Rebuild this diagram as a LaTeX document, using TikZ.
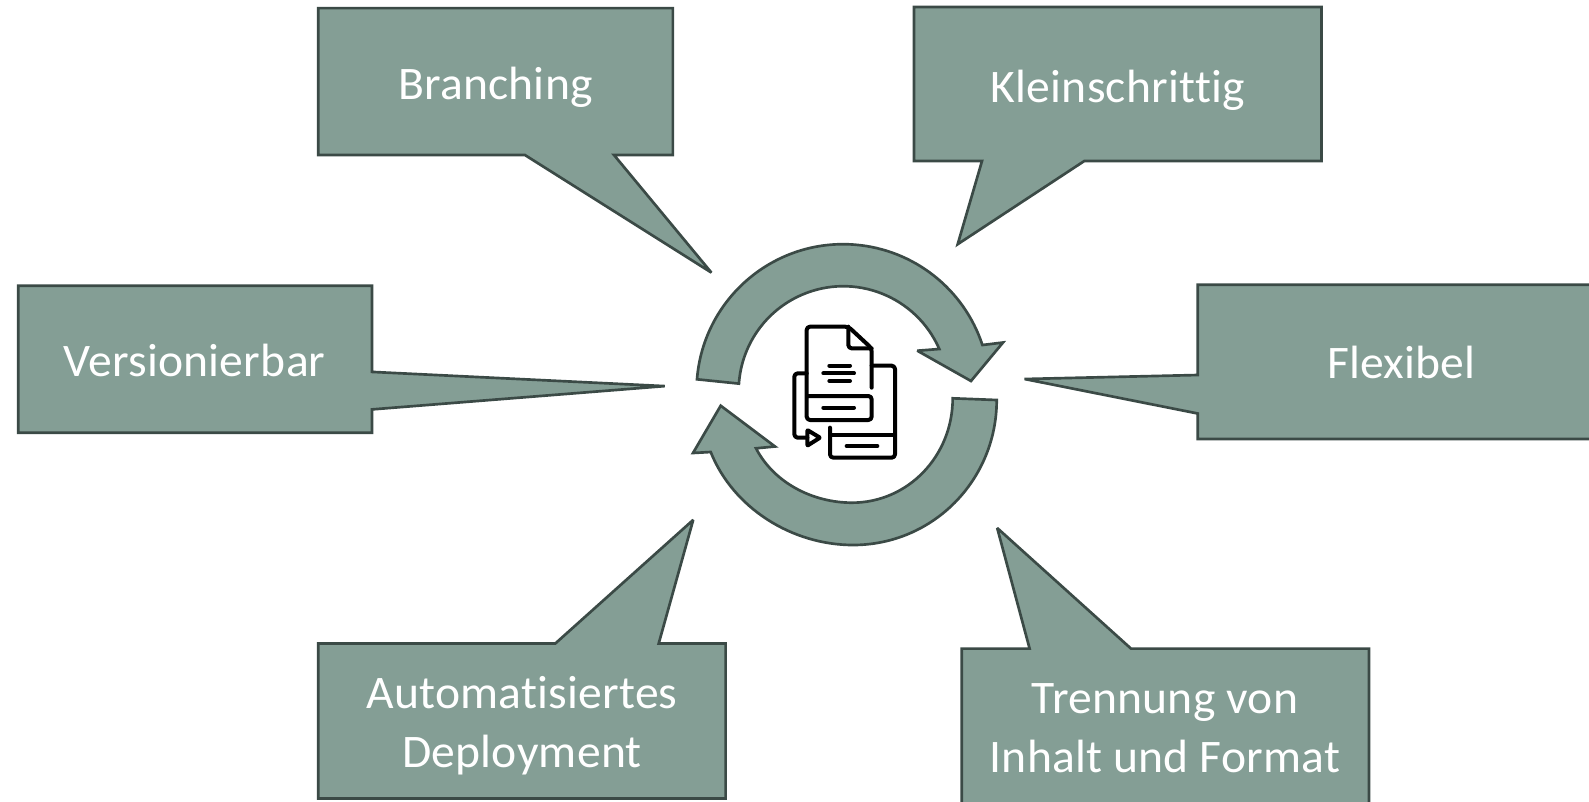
\documentclass[tikz,border=0pt]{standalone}
\usepackage{fontspec}
\setmainfont{Carlito}
\newfontfamily\labelfont[FakeStretch=1.02,LetterSpace=0.5,Ligatures=CommonOff]{Carlito}
\definecolor{boxfill}{HTML}{849E95}
\definecolor{boxline}{HTML}{3B4A46}
\tikzset{
	callout/.style={draw=boxline, fill=boxfill, line width=2pt, line join=miter, miter limit=3},
	calloutlabel/.style={text=white, font=\labelfont\fontsize{35}{44}\selectfont, align=center, inner sep=0pt},
	icon/.style={draw=black, line width=3pt, line join=round, line cap=round, rounded corners=2.5pt},
}
\begin{document}
\begin{tikzpicture}[x=0.75pt, y=-0.75pt]
	\useasboundingbox (0,0) rectangle (1589,801);
	\begin{scope}
	\clip (0,0) rectangle (1589,801);
	% callouts
	\draw [callout] (318.2,8.1) -- (672.9,8.1) -- (672.9,155) -- (614,155) -- (711.4,272.6) -- (524.9,155) -- (318.2,155) -- cycle;
	\draw [callout] (914,7) -- (1321.5,7) -- (1321.5,161) -- (1084.3,161) -- (957.7,244.2) -- (982,161) -- (914,161) -- cycle;
	\draw [callout] (18.2,285.8) -- (372,285.8) -- (372,371.9) -- (664.8,386.1) -- (372,409.4) -- (372,432.7) -- (18.2,432.7) -- cycle;
	\draw [callout] (1197.8,284.8) -- (1600,284.8) -- (1600,439) -- (1197.8,439) -- (1197.8,413.5) -- (1024.5,379) -- (1197.8,375) -- cycle;
	\draw [callout] (318.2,643.5) -- (555.3,643.5) -- (693.2,519.9) -- (658.7,643.5) -- (725.6,643.5) -- (725.6,798.5) -- (318.2,798.5) -- cycle;
	\draw [callout] (961.7,648.6) -- (1029.6,648.6) -- (997.2,528) -- (1131,648.6) -- (1369,648.6) -- (1369,820) -- (961.7,820) -- cycle;
	\end{scope}
	\node [calloutlabel] (branching) at (495.5,87) {Branching};
	\node [calloutlabel] (kleinschrittig) at (1117.8,90) {Kleinschrittig};
	\node [calloutlabel] (versionierbar) at (194.6,360) {Versionierbar};
	\node [calloutlabel] (flexibel) at (1401.5,362) {Flexibel};
	\node [calloutlabel] (deployment) at (522,725.5) {Automatisiertes\\Deployment};
	\node [calloutlabel] (trennung) at (1165,728.5) {Trennung von\\Inhalt und Format};
	% cycle arrows
	\draw [callout] (697,379.3) arc (184.5:341.8:146.6) -- (1003,342.5) -- (971,381) -- (917.3,350.7) -- (939.3,349) arc (336.4:184:104.7) -- cycle;
	\draw [callout] (996.7,400) .. controls (996.7,480) and (933,545) .. (853,545) .. controls (792,545) and (733,508) .. (710.7,452) -- (693,453) -- (720.7,405.7) -- (775,446.5) -- (756,448.3) .. controls (774,483) and (813,502.7) .. (852,502.7) .. controls (908,502.7) and (952.7,456) .. (952.7,398.3) -- cycle;
	% icon
	\begin{scope}[shift={(780,315)}, x=0.25pt, y=-0.25pt]
	\draw [icon] (275,218) -- (275,100) -- (205,35) -- (80,35) -- (80,315) -- (275,315) -- (275,243) -- (80,243);
	\draw [icon] (205,35) -- (205,100) -- (275,100);
	\draw [icon] (148,152) -- (210,152) (130,175) -- (222,175) (148,198) -- (210,198) (130,278) -- (222,278);
	\draw [icon] (275,152) -- (345,152) -- (345,428) -- (150,428) -- (150,338);
	\draw [icon] (150,360) -- (345,360) (200,393) -- (292,393);
	\draw [icon] (80,175) -- (43,175) -- (43,368) -- (82,368);
	\draw [icon, rounded corners=0.5pt] (82,345) -- (120,368) -- (82,392) -- cycle;
	\end{scope}
\end{tikzpicture}
\end{document}
